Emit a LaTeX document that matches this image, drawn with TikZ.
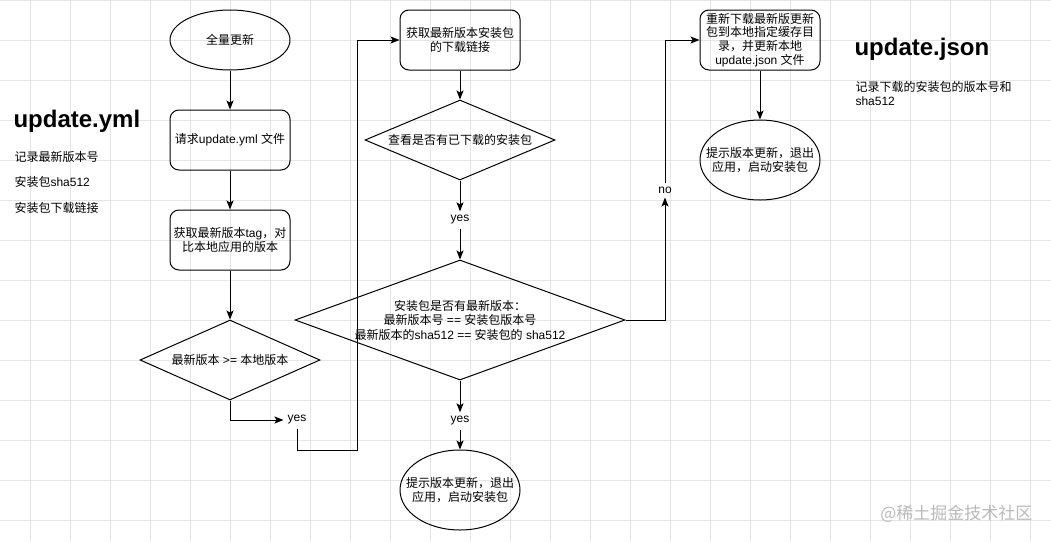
\documentclass[tikz,border=0pt]{standalone}
\usepackage{fontspec}
\setmainfont{Liberation Sans}
\newfontfamily\cjk{Noto Sans CJK SC}
\newcommand\zh[1]{{\cjk #1}}
\usetikzlibrary{shapes.geometric,arrows.meta}

\tikzset{
  every node/.style={font=\fontsize{12}{14.5}\selectfont, align=center},
  stepbox/.style={draw, line width=1pt, rounded corners=9pt, minimum width=120pt, minimum height=60pt, inner sep=2pt},
  oval/.style={draw, line width=1pt, ellipse, minimum width=120pt, minimum height=60pt, inner xsep=-12pt, inner ysep=0pt},
  check/.style={draw, line width=1pt, diamond, inner sep=0pt},
  edgelabel/.style={inner sep=4pt},
  flow/.style={-{Stealth[length=9pt,width=7pt,inset=2pt]}, line width=1pt},
  gridline/.style={gray!20, line width=0.7pt},
}

\begin{document}
\begin{tikzpicture}[x=1pt,y=-1pt]

% Add white sheet and grid.
    \fill[white] (0,0) rectangle (1051,541);
    \useasboundingbox (0,0) rectangle (1051,541);
    \foreach \gx in {30,70,...,1030} \draw[gridline] (\gx,0) -- (\gx,541);
    \foreach \gy in {0,40,...,520} \draw[gridline] (0,\gy) -- (1051,\gy);

% Notes on the left and on the right.
    \node[anchor=west, font=\bfseries\fontsize{24}{28}\selectfont] (ymltitle) at (10,121) {update.yml};
    \node[anchor=west] (ymlnote1) at (11,157) {\zh{记录最新版本号}};
    \node[anchor=west] (ymlnote2) at (11,182) {\zh{安装包}sha512};
    \node[anchor=west] (ymlnote3) at (11,208) {\zh{安装包下载链接}};
    \node[anchor=west, font=\bfseries\fontsize{24}{28}\selectfont] (jsontitle) at (851,49) {update.json};
    \node[anchor=west, align=left, font=\fontsize{12}{13.5}\selectfont] (jsonnote) at (852,93.5) {\zh{记录下载的安装包的版本号和}\\sha512};

% Left column.
    \node[oval] (start) at (230,40) {\zh{全量更新}};
    \node[stepbox] (request) at (230,140) {\zh{请求}update.yml \zh{文件}};
    \node[stepbox] (gettag) at (230,240) {\zh{获取最新版本}tag\zh{，对}\\\zh{比本地应用的版本}};
    \node[check, minimum width=180pt, minimum height=80pt, shape aspect=2.25] (cmpver) at (230,360) {\zh{最新版本} >= \zh{本地版本}};
    \node[edgelabel] (yesa) at (297,420) {yes};
    \coordinate (benda) at (357,450);

% Middle column.
    \node[stepbox] (getlink) at (460,40) {\zh{获取最新版本安装包}\\\zh{的下载链接}};
    \node[check, minimum width=190pt, minimum height=80pt, shape aspect=2.375] (haspkg) at (460,140) {\zh{查看是否有已下载的安装包}};
    \node[edgelabel] (yesb) at (460,220) {yes};
    \node[check, minimum width=330pt, minimum height=120pt, shape aspect=2.75] (isnew) at (460,320)
        {\zh{安装包是否有最新版本：}\\\zh{最新版本号} == \zh{安装包版本号}\\\zh{最新版本的}sha512 == \zh{安装包的} sha512};
    \node[edgelabel] (yesc) at (460,421) {yes};
    \node[oval, minimum height=80pt] (restarta) at (460,490) {\zh{提示版本更新，退出}\\\zh{应用，启动安装包}};

% Right column.
    \node[edgelabel] (nob) at (665,190) {no};
    \node[stepbox, font=\fontsize{12}{13.8}\selectfont] (redl) at (760,40) {\zh{重新下载最新版更新}\\\zh{包到本地指定缓存目}\\\zh{录，并更新本地}\\update.json \zh{文件}};
    \node[oval, minimum height=80pt] (restartb) at (760,160) {\zh{提示版本更新，退出}\\\zh{应用，启动安装包}};

% Connectors.
    \draw[flow] (start) -- (request);
    \draw[flow] (request) -- (gettag);
    \draw[flow] (gettag) -- (cmpver);
    \draw[flow] (cmpver.south) |- (yesa.west);
    \draw[flow] (yesa.south) |- (benda) |- (getlink.west);
    \draw[flow] (getlink) -- (haspkg);
    \draw[flow] (haspkg.south) -- (yesb.north);
    \draw[flow] (yesb.south) -- (isnew.north);
    \draw[flow] (isnew.south) -- (yesc.north);
    \draw[flow] (yesc.south) -- (restarta.north);
    \draw[flow] (isnew.east) -| (nob.south);
    \draw[flow] (nob.north) |- (redl.west);
    \draw[flow] (redl) -- (restartb);

% Watermark.
    \node[anchor=east, text=gray!55, font=\cjk\fontsize{17}{17}\selectfont] (mark) at (1036,514) {@稀土掘金技术社区};

\end{tikzpicture}
\end{document}
